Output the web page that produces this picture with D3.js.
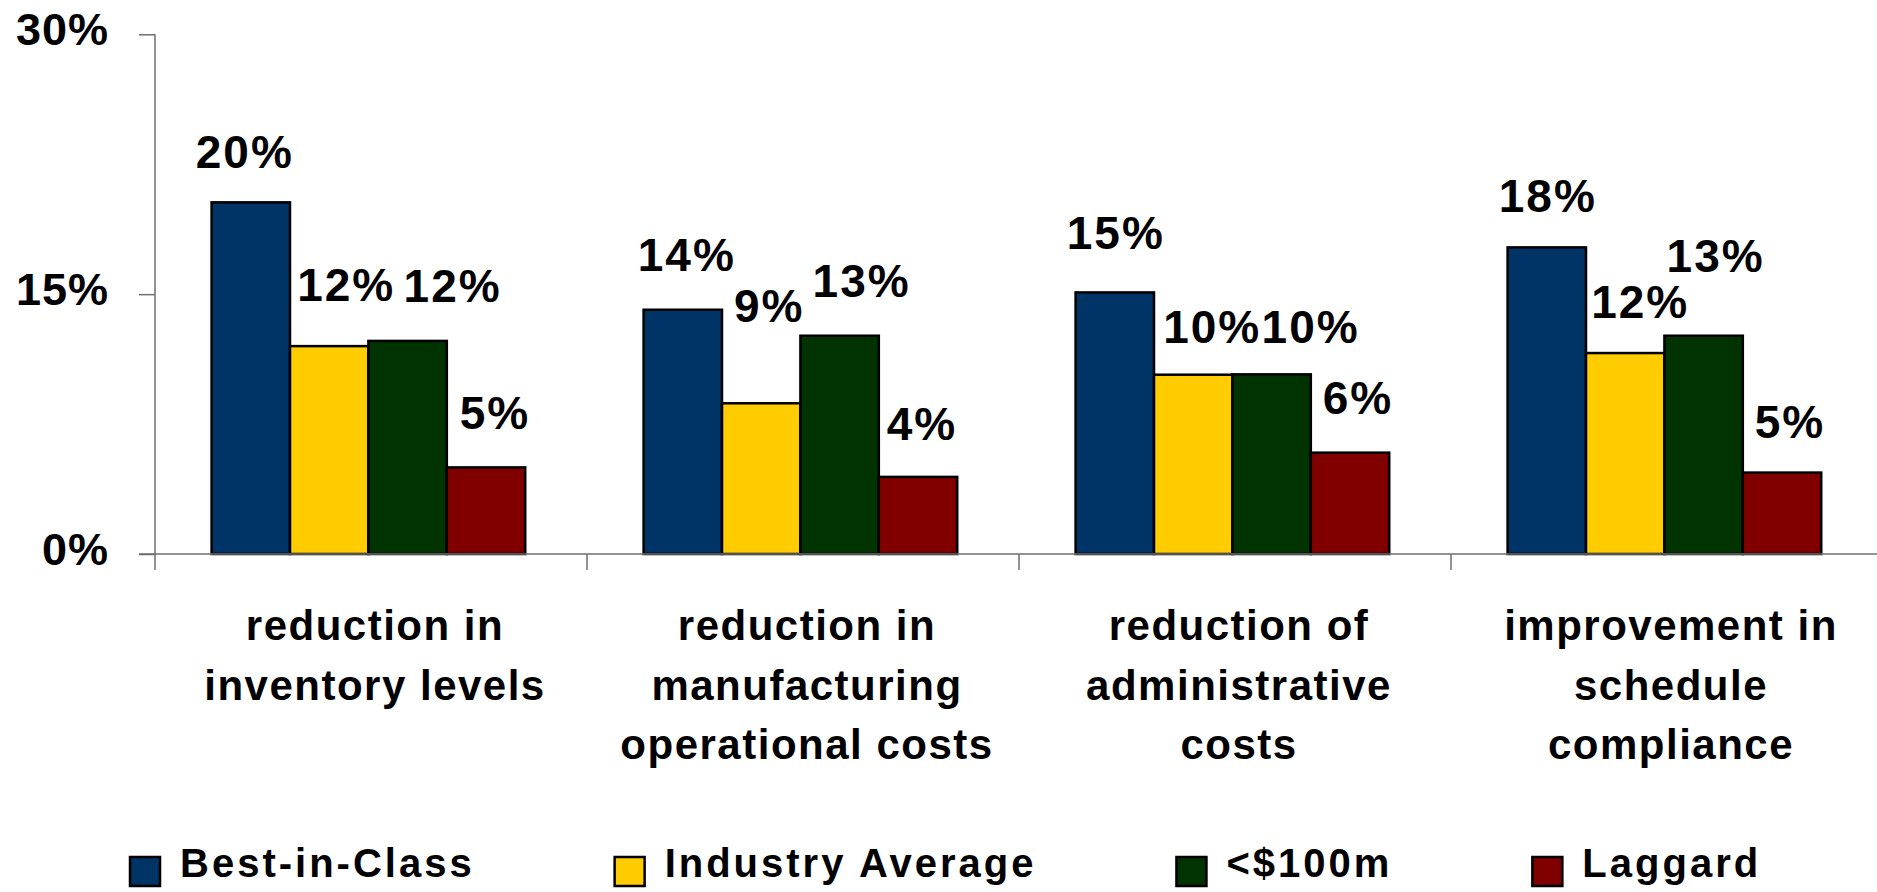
<!DOCTYPE html>
<html>
<head>
<meta charset="utf-8">
<script src="https://cdn.jsdelivr.net/npm/d3@7"></script>
<style>
  html, body { margin: 0; padding: 0; background: #fff; }
  svg { display: block; }
  text { font-family: "Liberation Sans", Arial, sans-serif; font-weight: bold; fill: #000; }
</style>
</head>
<body>
<svg id="chart" width="1877" height="892"></svg>
<script>
// Categories (multi-line labels)
const categories = [
  ["reduction in", "inventory levels"],
  ["reduction in", "manufacturing", "operational costs"],
  ["reduction of", "administrative", "costs"],
  ["improvement in", "schedule", "compliance"]
];

// Series names and colours
const seriesNames = ["Best-in-Class", "Industry Average", "<$100m", "Laggard"];
const seriesColors = ["#003366", "#FFCC00", "#003300", "#800000"];

// Values in percent, one array per series (one value per category)
const bestInClass     = [20.3, 14.1, 15.1, 17.7];
const industryAverage = [12.0, 8.7, 10.35, 11.6];
const under100m       = [12.3, 12.6, 10.37, 12.6];
const laggard         = [5.0, 4.45, 5.85, 4.7];

// Y-axis ticks
const yTicks = [0, 15, 30];

// Label placement per category/series: [horizontal shift, baseline height above bar top]
const labelPlacement = [
  [[-7, 34], [16, 45], [44, 39], [8, 38]],
  [[3, 39], [7, 81], [21, 39], [3, 37]],
  [[0, 43], [18, 32], [38, 31], [7, 39]],
  [[0, 35], [14, 35], [11, 64], [7, 35]]
];

const seriesValues = [bestInClass, industryAverage, under100m, laggard];

const svg = d3.select("#chart");

const x0 = d3.scaleBand()
  .domain(d3.range(categories.length))
  .range([155, 1883])
  .padding(0);

const bw = x0.bandwidth();
const x1 = d3.scaleBand()
  .domain(d3.range(seriesNames.length))
  .range([bw * 0.131, bw * 0.857])
  .padding(0);

const y = d3.scaleLinear().domain([0, 30]).range([554, 34.3]);

const axisColor = "#6e6e6e";

// Y axis
const yAxis = svg.append("g").attr("transform", "translate(155,0)")
  .call(d3.axisLeft(y).tickValues(yTicks).tickSize(16).tickFormat(d => d + "%"));
yAxis.select(".domain").remove();
yAxis.selectAll(".tick line").attr("stroke", axisColor).attr("stroke-width", 1.5);
yAxis.selectAll(".tick text")
  .attr("x", -46)
  .attr("dy", "0.23em")
  .attr("font-size", 45)
  .attr("letter-spacing", 1)
  .attr("font-family", "Liberation Sans, Arial, sans-serif")
  .attr("font-weight", "bold")
  .attr("fill", "#000");
svg.append("line")
  .attr("x1", 155).attr("x2", 155)
  .attr("y1", y(30)).attr("y2", y(0) + 16)
  .attr("stroke", axisColor).attr("stroke-width", 1.5);

// Bars
const groups = svg.append("g").selectAll("g")
  .data(categories)
  .join("g")
  .attr("transform", (d, i) => `translate(${x0(i)},0)`);

groups.selectAll("rect")
  .data((d, ci) => seriesValues.map((vals, si) => ({ si, ci, v: vals[ci] })))
  .join("rect")
  .attr("x", d => x1(d.si))
  .attr("width", x1.bandwidth())
  .attr("y", d => y(d.v))
  .attr("height", d => y(0) - y(d.v))
  .attr("fill", d => seriesColors[d.si])
  .attr("stroke", "#000")
  .attr("stroke-width", 2.5);

// Value labels (letter-spacing adds trailing space, so shift by half of it)
const valueSpacing = 2;
groups.selectAll("text.value")
  .data((d, ci) => seriesValues.map((vals, si) => ({ si, ci, v: vals[ci] })))
  .join("text")
  .attr("class", "value")
  .attr("x", d => x1(d.si) + x1.bandwidth() / 2 + labelPlacement[d.ci][d.si][0] + valueSpacing / 2)
  .attr("y", d => y(d.v) - labelPlacement[d.ci][d.si][1])
  .attr("text-anchor", "middle")
  .attr("font-size", 46)
  .attr("letter-spacing", valueSpacing)
  .text(d => Math.round(d.v) + "%");

// X axis line and category ticks
svg.append("line")
  .attr("x1", 139).attr("x2", 1877)
  .attr("y1", y(0)).attr("y2", y(0))
  .attr("stroke", axisColor).attr("stroke-width", 1.5);
svg.append("g").selectAll("line")
  .data(d3.range(1, categories.length + 1))
  .join("line")
  .attr("x1", i => x0.range()[0] + i * bw).attr("x2", i => x0.range()[0] + i * bw)
  .attr("y1", y(0)).attr("y2", y(0) + 16)
  .attr("stroke", axisColor).attr("stroke-width", 1.5);

// Category labels
groups.append("text")
  .attr("text-anchor", "middle")
  .attr("font-size", 42)
  .attr("letter-spacing", 1.5)
  .selectAll("tspan")
  .data(d => d)
  .join("tspan")
  .attr("x", bw / 2 + 4)
  .attr("y", (d, i) => 640 + i * 59.5)
  .text(d => d);

// Legend
const legend = svg.append("g");
let lx = 130;
seriesNames.forEach((name, i) => {
  legend.append("rect")
    .attr("x", lx).attr("y", 857)
    .attr("width", 30).attr("height", 29)
    .attr("fill", seriesColors[i])
    .attr("stroke", "#000").attr("stroke-width", 2.5);
  const t = legend.append("text")
    .attr("x", lx + 50).attr("y", 877)
    .attr("font-size", 40)
    .attr("letter-spacing", 3)
    .text(name);
  lx += 50 + t.node().getComputedTextLength() + 140;
});
</script>
</body>
</html>
